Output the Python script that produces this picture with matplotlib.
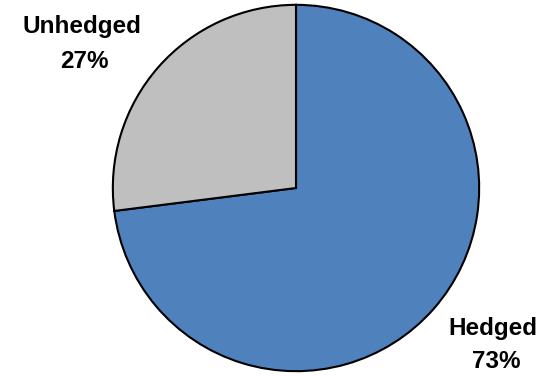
import matplotlib
matplotlib.use("Agg")
import matplotlib.pyplot as plt

# share of exposure
categories = ["Hedged", "Unhedged"]
shares = [73, 27]
colors = ["#4F81BD", "#BFBFBF"]

W, H = 548, 376
fig = plt.figure(figsize=(W / 100, H / 100), dpi=100)

cx, cy, r = 296, 188, 185
ax = fig.add_axes([(cx - r) / W, (H - cy - r) / H, 2 * r / W, 2 * r / H])
ax.pie(shares, colors=colors, startangle=90, counterclock=False,
       wedgeprops=dict(edgecolor="black", linewidth=1.5))
ax.set_xlim(-1.01, 1.01)
ax.set_ylim(-1.01, 1.01)
ax.set_aspect("equal")
ax.axis("off")

# label positions in pixels (name line, percent line)
label_pos = {"Hedged": ((493, 329), (496, 362)),
             "Unhedged": ((82, 27), (84, 62))}
font = dict(family="Liberation Sans", fontweight="bold", fontsize=17.5,
            ha="center", va="center")
for cat, val in zip(categories, shares):
    (x1, y1), (x2, y2) = label_pos[cat]
    fig.text(x1 / W, 1 - y1 / H, cat, **font)
    fig.text(x2 / W, 1 - y2 / H, f"{val}%", **font)

fig.savefig("out.png", dpi=100)
